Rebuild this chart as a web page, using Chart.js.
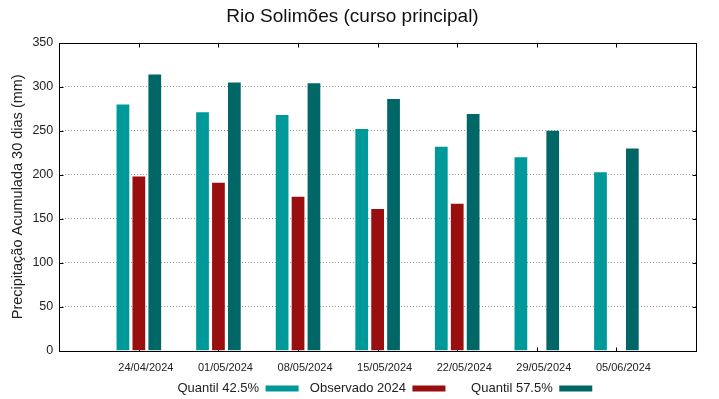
<!DOCTYPE html>
<html>
<head>
<meta charset="utf-8">
<script src="https://cdn.jsdelivr.net/npm/chart.js@4/dist/chart.umd.min.js"></script>
<style>
  html, body { margin: 0; padding: 0; background: #fff; }
  #wrap { width: 719px; height: 399px; }
</style>
</head>
<body>
<div id="wrap"><canvas id="chart"></canvas></div>
<script>
// data
const dates = ["24/04/2024", "01/05/2024", "08/05/2024", "15/05/2024", "22/05/2024", "29/05/2024", "05/06/2024"];
const quantil425 = [280, 271, 268, 252, 232, 220, 203];
const observado = [198, 191, 175, 161, 167, null, null];
const quantil575 = [314, 305, 304, 286, 269, 250, 230];
const yTicks = [0, 50, 100, 150, 200, 250, 300, 350];

// empty slot on each side so the axis runs from -1 to 7 like gnuplot
const labels = [""].concat(dates, [""]);
const pad = arr => [null].concat(arr, [null]);

function edges(chart) {
    const a = chart.chartArea;
    return {
        l: Math.round(a.left) + 0.5, r: Math.round(a.right) + 0.5,
        t: Math.round(a.top) + 0.5, b: Math.round(a.bottom) + 0.5
    };
}

// gnuplot style box with small inward tick marks (ticks sit behind the bars)
const frame = {
    id: 'frame',
    beforeDatasetsDraw(chart) {
        const ctx = chart.ctx;
        const xs = chart.scales.x, ys = chart.scales.y;
        const e = edges(chart);
        ctx.save();
        ctx.strokeStyle = '#000';
        ctx.lineWidth = 1;
        ctx.beginPath();
        yTicks.forEach(v => {
            const y = Math.round(ys.getPixelForValue(v)) + 0.5;
            ctx.moveTo(e.l, y); ctx.lineTo(e.l + 4, y);
            ctx.moveTo(e.r, y); ctx.lineTo(e.r - 4, y);
        });
        dates.forEach((d, i) => {
            const x = Math.round(xs.getPixelForValue(i + 1)) + 0.5;
            ctx.moveTo(x, e.t); ctx.lineTo(x, e.t + 4);
            ctx.moveTo(x, e.b); ctx.lineTo(x, e.b - 4);
        });
        ctx.stroke();
        ctx.restore();
    },
    afterDraw(chart) {
        const ctx = chart.ctx;
        const e = edges(chart);
        ctx.save();
        ctx.strokeStyle = '#000';
        ctx.lineWidth = 1;
        ctx.strokeRect(e.l, e.t, e.r - e.l, e.b - e.t);
        ctx.restore();
    }
};

new Chart(document.getElementById("chart"), {
    type: 'bar',
    data: {
        labels: labels,
        datasets: [
            // leading spaces keep gnuplot's fixed legend columns
            { label: "    Quantil 42.5%", data: pad(quantil425), backgroundColor: '#009999', borderWidth: 0 },
            { label: "  Observado 2024", data: pad(observado), backgroundColor: '#990f0f', borderWidth: 0 },
            { label: "      Quantil 57.5%", data: pad(quantil575), backgroundColor: '#006666', borderWidth: 0 }
        ]
    },
    options: {
        responsive: true,
        maintainAspectRatio: false,
        animation: false,
        categoryPercentage: 0.6,
        barPercentage: 0.8,
        layout: { padding: { left: 9, right: 23, top: 0, bottom: -6 } },
        font: { family: "'Liberation Sans', Arial, sans-serif" },
        scales: {
            x: {
                offset: false,
                grid: { display: false },
                border: { display: false },
                ticks: {
                    color: '#222',
                    font: { size: 11 },
                    labelOffset: 7,
                    padding: 3,
                    maxRotation: 0,
                    autoSkip: false
                }
            },
            y: {
                min: 0,
                max: 350,
                afterBuildTicks: axis => { axis.ticks = yTicks.map(v => ({ value: v })); },
                grid: {
                    color: ctx => (ctx.tick && (ctx.tick.value === 0 || ctx.tick.value === 350)) ? 'rgba(0,0,0,0)' : '#9a9a9a',
                    drawTicks: false
                },
                border: { display: false, dash: [1, 2] },
                ticks: { color: '#222', font: { size: 12.5 }, padding: 6 },
                title: {
                    display: true,
                    text: "Precipitação Acumulada 30 dias (mm)",
                    color: '#222',
                    font: { size: 14.5 },
                    padding: { top: 0, bottom: 0 }
                }
            }
        },
        plugins: {
            title: {
                display: true,
                text: "Rio Solimões (curso principal)",
                color: '#111',
                font: { size: 19, weight: 'normal' },
                padding: { top: 5, bottom: 15 }
            },
            legend: {
                position: 'bottom',
                fullSize: false,
                rtl: true,
                reverse: true,
                textDirection: 'ltr',
                labels: {
                    boxWidth: 33,
                    boxHeight: 6,
                    padding: 4,
                    color: '#222',
                    font: { size: 13 }
                }
            },
            tooltip: { enabled: false }
        }
    },
    plugins: [frame]
});
</script>
</body>
</html>
